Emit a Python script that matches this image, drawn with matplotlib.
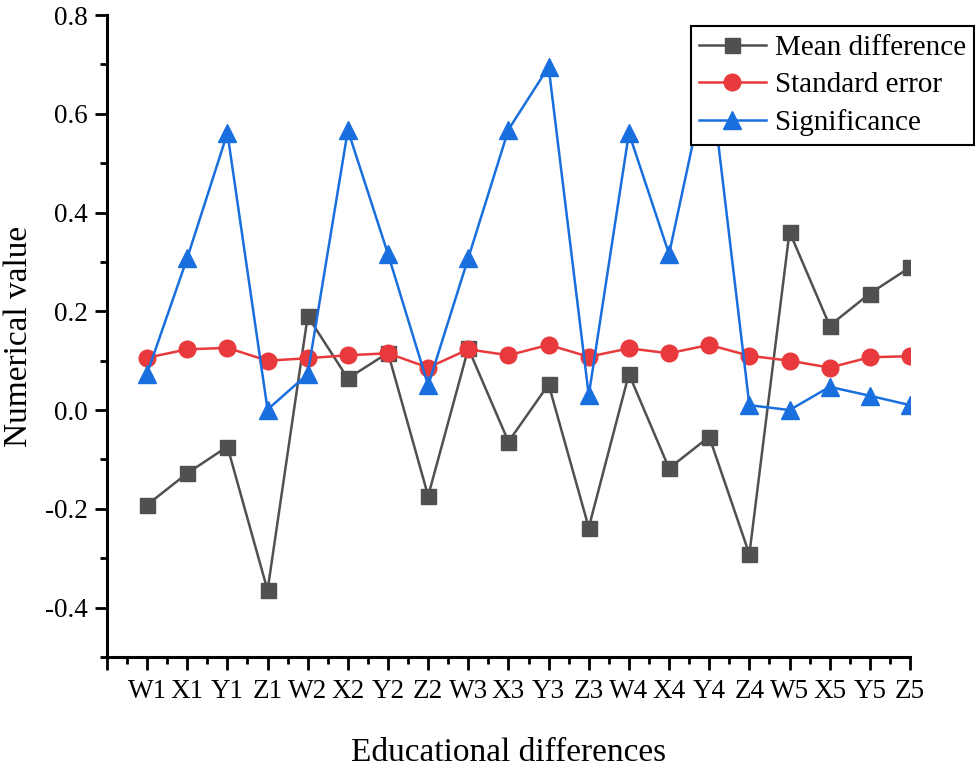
import matplotlib
matplotlib.use("Agg")
import matplotlib.pyplot as plt
from matplotlib.ticker import MultipleLocator, FixedLocator

plt.rcParams['font.family'] = ['Liberation Serif', 'DejaVu Serif']

categories = ["W1", "X1", "Y1", "Z1", "W2", "X2", "Y2", "Z2", "W3", "X3",
              "Y3", "Z3", "W4", "X4", "Y4", "Z4", "W5", "X5", "Y5", "Z5"]
mean_difference = [-0.192, -0.128, -0.074, -0.365, 0.190, 0.064, 0.116, -0.174, 0.125, -0.064,
                   0.052, -0.238, 0.073, -0.118, -0.054, -0.292, 0.361, 0.171, 0.236, 0.289]
standard_error = [0.106, 0.123, 0.126, 0.100, 0.105, 0.111, 0.115, 0.086, 0.123, 0.111,
                  0.132, 0.108, 0.125, 0.115, 0.132, 0.110, 0.100, 0.086, 0.107, 0.109]
significance = [0.074, 0.308, 0.561, 0.001, 0.073, 0.567, 0.316, 0.050, 0.308, 0.568,
                0.695, 0.030, 0.561, 0.316, 0.695, 0.010, 0.000, 0.047, 0.029, 0.010]

fig = plt.figure(figsize=(9.75, 7.71), dpi=100)
ax = fig.add_axes([0.1097, 0.1479, 0.8236, 0.8326])

x = list(range(len(categories)))
ax.plot(x, mean_difference, color='#505050', lw=1.8, marker='s', ms=10.8,
        label='Mean difference', zorder=3)
ax.plot(x, standard_error, color='#e8393c', lw=1.8, marker='o', ms=12,
        label='Standard error', zorder=3)
ax.plot(x, significance, color='#1a6fdf', lw=1.8, marker='^', ms=13.5,
        label='Significance', zorder=3)

ax.set_xlim(-1, len(categories) - 1)
ax.set_ylim(-0.5, 0.8)

ax.xaxis.set_major_locator(FixedLocator(list(range(-1, len(categories)))))
ax.set_xticklabels([''] + categories)
ax.xaxis.set_minor_locator(FixedLocator([i + 0.5 for i in range(-1, len(categories) - 1)]))
ax.yaxis.set_major_locator(MultipleLocator(0.2))
ax.yaxis.set_minor_locator(MultipleLocator(0.1))
ax.yaxis.set_major_formatter(matplotlib.ticker.FormatStrFormatter('%.1f'))

for s in ['top', 'right']:
    ax.spines[s].set_visible(False)
for s in ['left', 'bottom']:
    ax.spines[s].set_linewidth(2.2)

ax.tick_params(which='major', direction='out', length=9, width=2, labelsize=19.5, pad=5)
ax.tick_params(which='minor', direction='out', length=5, width=2)
ax.tick_params(axis='x', which='major', pad=7)

ax.set_xlabel('Educational differences', fontsize=24, labelpad=24)
ax.set_ylabel('Numerical value', fontsize=24, labelpad=8)

leg = fig.legend(loc='upper right', bbox_to_anchor=(0.999, 0.966), fontsize=21,
                 frameon=True, fancybox=False, edgecolor='black', framealpha=1,
                 handlelength=2.3, handletextpad=0.3, labelspacing=0.38,
                 borderpad=0.28, borderaxespad=0)
leg.get_frame().set_linewidth(1.5)
leg.set_zorder(10)

fig.savefig('out.png', dpi=100)
